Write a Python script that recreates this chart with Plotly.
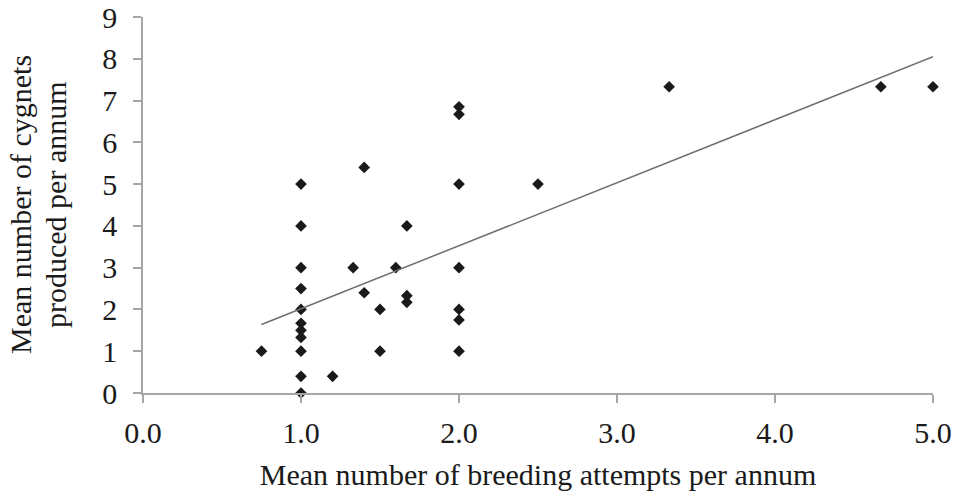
import plotly.graph_objects as go

# Data
breeding_attempts = [0.75,
                     1.0, 1.0, 1.0, 1.0, 1.0, 1.0, 1.0, 1.0, 1.0, 1.0, 1.0,
                     1.2, 1.33, 1.4, 1.4, 1.5, 1.5, 1.6, 1.67, 1.67, 1.67,
                     2.0, 2.0, 2.0, 2.0, 2.0, 2.0, 2.0,
                     2.5, 3.33, 4.67, 5.0]
cygnets = [1.0,
           5.0, 4.0, 3.0, 2.5, 2.0, 1.67, 1.5, 1.33, 1.0, 0.4, 0.0,
           0.4, 3.0, 5.4, 2.4, 2.0, 1.0, 3.0, 4.0, 2.33, 2.17,
           6.85, 6.67, 5.0, 3.0, 2.0, 1.75, 1.0,
           5.0, 7.33, 7.33, 7.33]

# Trendline (linear fit)
trend_x = [0.75, 5.0]
trend_slope = 1.508
trend_intercept = 0.509
trend_y = [trend_slope * x + trend_intercept for x in trend_x]

x_ticks = [0, 1, 2, 3, 4, 5]
x_tick_labels = ["0.0", "1.0", "2.0", "3.0", "4.0", "5.0"]
y_ticks = list(range(0, 10))
y_title_lines = ["Mean number of cygnets", "produced per annum"]

font_family = "Liberation Serif"
text_color = "#1a1a1a"
axis_color = "#a6a6a6"
fs = 30

fig = go.Figure()
fig.add_trace(go.Scatter(
    x=breeding_attempts, y=cygnets, mode="markers",
    marker=dict(symbol="diamond", size=9, color="#1a1a1a"),
    showlegend=False, hoverinfo="x+y", cliponaxis=False))
fig.add_trace(go.Scatter(
    x=trend_x, y=trend_y, mode="lines",
    line=dict(color="#6e6e6e", width=1.5),
    showlegend=False, hoverinfo="skip", cliponaxis=False))

fig.update_layout(
    width=955, height=495,
    margin=dict(l=143, r=22, t=17, b=102),
    paper_bgcolor="white", plot_bgcolor="white",
    font=dict(family=font_family, size=fs, color=text_color),
)
fig.update_xaxes(
    range=[0, 5], tickvals=x_ticks, ticktext=x_tick_labels,
    showgrid=False, zeroline=False, automargin=False,
    showline=True, linecolor=axis_color, linewidth=1.5,
    ticks="outside", ticklen=8, tickcolor=axis_color, tickwidth=1.5,
    ticklabelstandoff=4, ticklabeloverflow="allow",
    tickfont=dict(family=font_family, size=fs, color=text_color),
    title=dict(text="Mean number of breeding attempts per annum",
               font=dict(family=font_family, size=fs, color=text_color),
               standoff=16),
)
fig.update_yaxes(
    range=[0, 9], tickvals=y_ticks,
    showgrid=False, zeroline=False, automargin=False,
    showline=True, linecolor=axis_color, linewidth=1.5,
    ticks="outside", ticklen=8, tickcolor=axis_color, tickwidth=1.5,
    ticklabelstandoff=10, ticklabeloverflow="allow",
    tickfont=dict(family=font_family, size=fs, color=text_color),
)

# two-line y-axis title, placed like the reference
for line, shift in zip(y_title_lines, [-123, -88]):
    fig.add_annotation(
        text=line, xref="paper", yref="paper", x=0, y=0.5,
        xanchor="center", yanchor="middle", xshift=shift,
        textangle=-90, showarrow=False,
        font=dict(family=font_family, size=fs, color=text_color))

# remove the default page margin so the 955x495 figure fills the window
page_css = "document.body.style.margin='0';document.body.style.overflow='hidden';"
fig.write_html("out.html", post_script=page_css,
               config={"displayModeBar": False})
